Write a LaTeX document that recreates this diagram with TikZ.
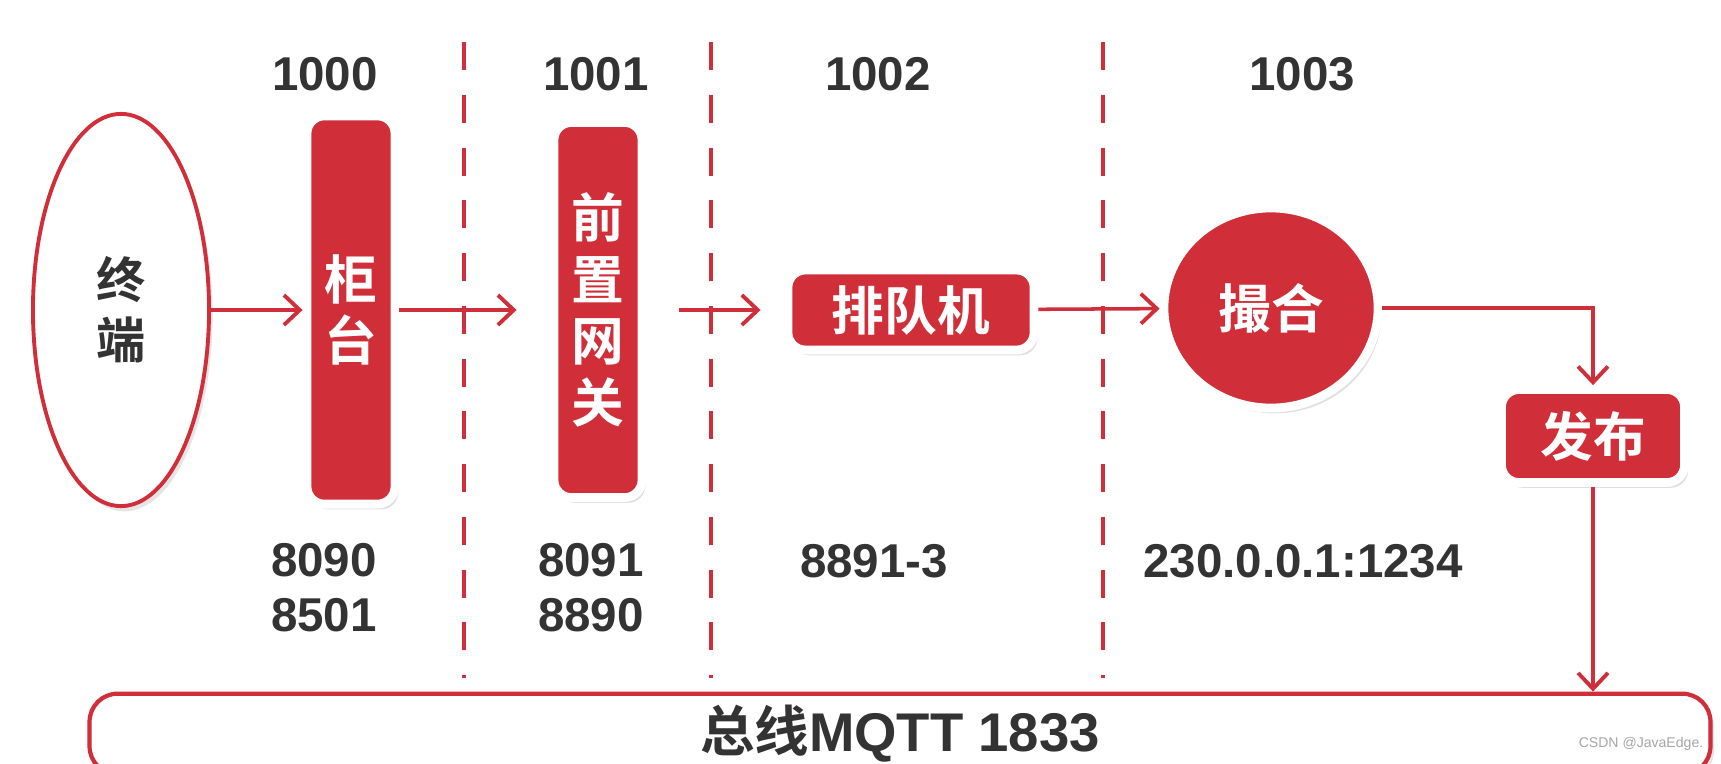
\documentclass[tikz,border=0pt]{standalone}
\usepackage{fontspec}
\setmainfont{Liberation Sans}
\newfontfamily\cjk{Noto Sans CJK SC}[UprightFont=* Bold]
\usetikzlibrary{shapes.geometric,arrows.meta,shadows}
\definecolor{boxred}{RGB}{208,46,56}
\definecolor{textgray}{RGB}{51,51,51}

\begin{document}
\begin{tikzpicture}[x=0.01cm, y=-0.01cm,
    redbox/.style={rectangle, rounded corners=5pt, fill=boxred, draw=white, line width=2.5pt,
        text=white, font=\cjk\fontsize{15}{17.5}\selectfont, align=center, inner sep=0pt,
        drop shadow={opacity=0.25, shadow xshift=1pt, shadow yshift=-1.5pt}},
    portlbl/.style={text=textgray, font=\bfseries\fontsize{13.5}{15.6}\selectfont, align=left, inner sep=0pt},
    flow/.style={draw=boxred, line width=1pt, -{Straight Barb[length=4.5pt,width=8.5pt,line width=1.1pt]}},
    divider/.style={draw=boxred, line width=1.3pt, dash pattern=on 8pt off 7pt}]
    \useasboundingbox (0,0) rectangle (1721,763);
    \clip (0,0) rectangle (1721,763);
    \fill[white] (0,0) rectangle (1721,763);
    % process ids
    \node[portlbl] (id0) at (325,74) {1000};
    \node[portlbl] (id1) at (596,74) {1001};
    \node[portlbl] (id2) at (878,74) {1002};
    \node[portlbl] (id3) at (1302,74) {1003};
    % dividers
    \draw[divider] (464,42) -- (464,678);
    \draw[divider] (711,42) -- (711,678);
    \draw[divider] (1103,42) -- (1103,678);
    % nodes
    \node[ellipse, draw=boxred, line width=1.1pt, fill=white, minimum width=1.76cm, minimum height=3.92cm,
        text=textgray, font=\cjk\fontsize{14}{17}\selectfont, align=center,
        drop shadow={opacity=0.2, shadow xshift=1pt, shadow yshift=-1.5pt}] (term) at (121,310) {终\\端};
    \node[redbox, minimum width=0.88cm, minimum height=3.88cm] (counter) at (351,310) {柜\\台};
    \node[redbox, minimum width=0.88cm, minimum height=3.75cm] (gateway) at (598,310) {前\\置\\网\\关};
    \node[redbox, minimum width=2.46cm, minimum height=0.80cm] (queue) at (911,310) {排队机};
    \node[redbox, ellipse, minimum width=2.14cm, minimum height=2.0cm] (match) at (1271,308) {撮合};
    \node[redbox, minimum width=1.83cm, minimum height=0.93cm] (pub) at (1593,436) {发布};
    \node[rectangle, rounded corners=8pt, draw=boxred, line width=1.2pt, fill=white,
        minimum width=16.2cm, minimum height=0.8cm, text=textgray,
        drop shadow={opacity=0.2, shadow xshift=1pt, shadow yshift=-1.5pt}] (bus) at (900,734)
        {{\cjk\fontsize{15.5}{18}\selectfont 总线}{\bfseries\fontsize{15.5}{18}\selectfont MQTT 1833}};
    % ports
    \node[portlbl] (port0) at (324,588) {8090\\8501};
    \node[portlbl] (port1) at (591,588) {8091\\8890};
    \node[portlbl] (port2) at (874,561) {8891-3};
    \node[portlbl] (port3) at (1303,561) {230.0.0.1:1234};
    % flow
    \draw[flow] (term) -- (counter);
    \draw[flow, shorten >=0.33cm] (counter) -- (gateway);
    \draw[flow, shorten <=0.33cm, shorten >=0.23cm] (gateway) -- (queue);
    \draw[flow] (queue) -- (match);
    \draw[flow] (match.east) -| (pub.north);
    \draw[flow] (pub.south) -- (pub.south |- bus.north);
    \node[text=gray!70, font=\fontsize{4}{5}\selectfont, inner sep=0pt] (mark) at (1641,744) {CSDN @JavaEdge.};
\end{tikzpicture}
\end{document}
